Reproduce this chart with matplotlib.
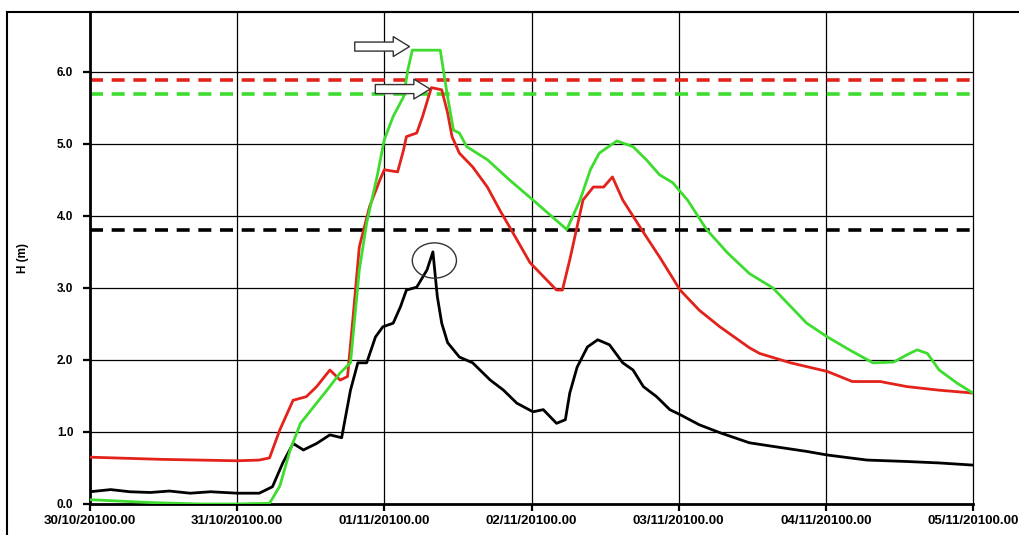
import matplotlib.pyplot as plt
from matplotlib.patches import Ellipse
from matplotlib.lines import Line2D

# time in days since 30/10/2010 00:00, stage H in metres
t_black = [0.00, 0.14, 0.27, 0.41, 0.54, 0.68, 0.82, 1.00, 1.15, 1.24,
           1.31, 1.38, 1.45, 1.54, 1.63, 1.71, 1.77, 1.82, 1.88, 1.94,
           1.99, 2.06, 2.11, 2.15, 2.22, 2.29, 2.33, 2.36, 2.39, 2.43,
           2.51, 2.60, 2.72, 2.81, 2.90, 3.01, 3.08, 3.17, 3.23, 3.26,
           3.31, 3.38, 3.45, 3.53, 3.62, 3.69, 3.76, 3.85, 3.94, 4.01,
           4.14, 4.28, 4.48, 4.64, 4.87, 5.01, 5.28, 5.55, 5.77, 6.00]
h_black = [0.17, 0.20, 0.17, 0.16, 0.18, 0.15, 0.17, 0.15, 0.15, 0.24,
           0.57, 0.84, 0.75, 0.84, 0.96, 0.92, 1.58, 1.96, 1.96, 2.32,
           2.46, 2.51, 2.74, 2.97, 3.01, 3.25, 3.50, 2.88, 2.51, 2.24,
           2.04, 1.96, 1.72, 1.58, 1.40, 1.28, 1.31, 1.12, 1.17, 1.54,
           1.90, 2.18, 2.28, 2.21, 1.96, 1.86, 1.63, 1.49, 1.31, 1.24,
           1.10, 0.99, 0.85, 0.80, 0.73, 0.68, 0.61, 0.59, 0.57, 0.54]

t_red = [0.00, 0.48, 1.00, 1.15, 1.22, 1.29, 1.38, 1.47, 1.54, 1.63,
         1.70, 1.75, 1.79, 1.83, 1.90, 1.97, 2.00, 2.09, 2.13, 2.15,
         2.22, 2.26, 2.30, 2.32, 2.39, 2.43, 2.46, 2.51, 2.60, 2.70,
         2.79, 2.85, 2.99, 3.17, 3.21, 3.26, 3.35, 3.42, 3.49, 3.55,
         3.62, 3.72, 3.78, 3.87, 4.01, 4.14, 4.28, 4.48, 4.55, 4.76,
         5.01, 5.18, 5.37, 5.55, 5.77, 6.00]
h_red = [0.65, 0.62, 0.60, 0.61, 0.64, 1.03, 1.44, 1.49, 1.63, 1.86,
         1.72, 1.77, 2.65, 3.57, 4.13, 4.50, 4.64, 4.61, 4.91, 5.10,
         5.15, 5.38, 5.65, 5.78, 5.75, 5.43, 5.10, 4.87, 4.68, 4.40,
         4.06, 3.85, 3.35, 2.97, 2.97, 3.39, 4.22, 4.40, 4.40, 4.54,
         4.22, 3.90, 3.71, 3.43, 2.97, 2.69, 2.46, 2.17, 2.09, 1.96,
         1.84, 1.70, 1.70, 1.63, 1.58, 1.54]

t_green = [0.00, 0.41, 0.75, 1.00, 1.22, 1.29, 1.36, 1.43, 1.61, 1.70,
           1.77, 1.83, 1.88, 1.95, 2.00, 2.06, 2.13, 2.16, 2.19, 2.38,
           2.43, 2.47, 2.51, 2.56, 2.70, 2.85, 3.01, 3.24, 3.33, 3.40,
           3.46, 3.58, 3.69, 3.78, 3.87, 3.96, 4.06, 4.19, 4.33, 4.48,
           4.64, 4.87, 5.01, 5.16, 5.32, 5.46, 5.55, 5.62, 5.69, 5.77,
           5.89, 6.00]
h_green = [0.06, 0.02, 0.00, 0.00, 0.01, 0.25, 0.75, 1.12, 1.58, 1.82,
           1.96, 3.25, 3.90, 4.54, 5.06, 5.38, 5.65, 6.03, 6.30, 6.30,
           5.65, 5.19, 5.15, 4.96, 4.78, 4.50, 4.22, 3.81, 4.22, 4.64,
           4.87, 5.04, 4.96, 4.78, 4.57, 4.46, 4.22, 3.81, 3.49, 3.20,
           3.00, 2.51, 2.32, 2.14, 1.96, 1.97, 2.07, 2.14, 2.09, 1.86,
           1.68, 1.54]

# threshold levels
level_red = 5.88
level_green = 5.69
level_black = 3.81

day_ticks = [0, 1, 2, 3, 4, 5, 6]
day_labels = ["30/10/20100.00", "31/10/20100.00", "01/11/20100.00", "02/11/20100.00",
              "03/11/20100.00", "04/11/20100.00", "05/11/20100.00"]
y_ticks = [0, 1, 2, 3, 4, 5, 6]

RED = "#e3221b"
GREEN = "#3ddc2e"

plt.rcParams['font.family'] = ['Liberation Sans', 'DejaVu Sans']

fig = plt.figure(figsize=(10.19, 5.35), dpi=100)
ax = fig.add_axes([90 / 1019, 1 - 504 / 535, (973 - 90) / 1019, (504 - 12) / 535])

for y in y_ticks[1:]:
    ax.axhline(y, color="black", lw=0.9, zorder=1)
for d in day_ticks[1:-1]:
    ax.axvline(d, color="black", lw=0.9, zorder=1)

dash = (0, (3.6, 2.4))
ax.axhline(level_red, color=RED, lw=2.6, ls=dash, zorder=2)
ax.axhline(level_green, color=GREEN, lw=2.6, ls=dash, zorder=2)
ax.axhline(level_black, color="black", lw=2.6, ls=dash, zorder=2)

ax.plot(t_black, h_black, color="black", lw=2.0, zorder=3)
ax.plot(t_red, h_red, color=RED, lw=2.0, zorder=4)
ax.plot(t_green, h_green, color=GREEN, lw=2.0, zorder=5)

# arrows pointing at the peaks
arrow_kw = dict(arrowstyle="simple,head_length=0.9,head_width=1.1,tail_width=0.5",
                fc="white", ec="#333333", lw=1.0, mutation_scale=13)
ax.annotate("", xy=(2.19, 6.35), xytext=(1.78, 6.35), arrowprops=arrow_kw, zorder=6)
ax.annotate("", xy=(2.33, 5.76), xytext=(1.92, 5.76), arrowprops=arrow_kw, zorder=6)

ax.add_patch(Ellipse((2.34, 3.38), 0.30, 0.49, fill=False, ec="#333333", lw=1.0, zorder=6))

ax.set_xlim(0, 6)
ax.set_ylim(0, 6.83)
ax.set_xticks(day_ticks)
ax.set_xticklabels(day_labels, fontsize=9.5, fontweight="bold")
ax.set_yticks(y_ticks)
ax.set_yticklabels([f"{v:.1f}" for v in y_ticks], fontsize=8.5, fontweight="bold")
ax.tick_params(axis="both", direction="out", length=5, width=1.6)
ax.tick_params(axis="x", pad=3)
ax.tick_params(axis="y", pad=7)
ax.set_ylabel("H (m)", fontsize=8.5, fontweight="bold", labelpad=20)

ax.spines["left"].set_linewidth(2)
ax.spines["bottom"].set_linewidth(2)
ax.spines["right"].set_linewidth(0.9)
ax.spines["top"].set_linewidth(1.5)

# outer frame
fig.add_artist(Line2D([7 / 1019, 7 / 1019], [0, 1 - 12 / 535], transform=fig.transFigure,
                      color="black", lw=1.5))
fig.add_artist(Line2D([7 / 1019, 1], [1 - 12 / 535, 1 - 12 / 535], transform=fig.transFigure,
                      color="black", lw=1.5))

fig.savefig("out.png", dpi=100)
